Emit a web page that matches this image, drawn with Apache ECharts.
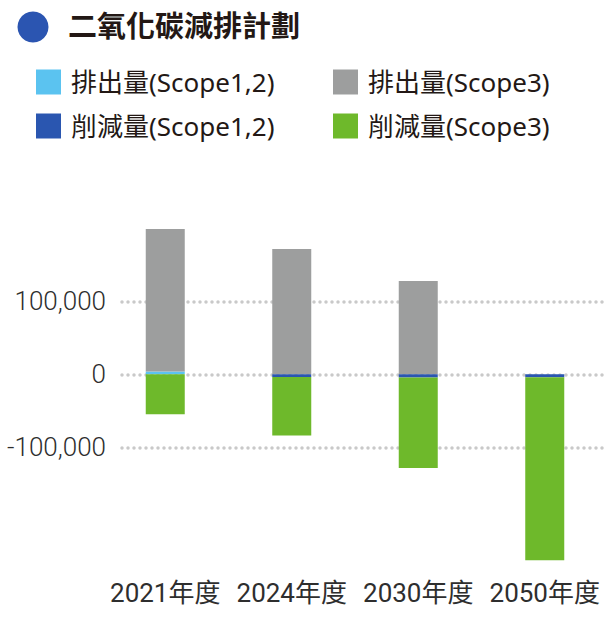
<!DOCTYPE html>
<html>
<head>
<meta charset="utf-8">
<script src="https://cdn.jsdelivr.net/npm/echarts@6.0.0/dist/echarts.min.js"></script>
<style>
  html, body { margin: 0; padding: 0; background: #fff; }
  #chart { width: 608px; height: 628px; }
</style>
</head>
<body>
<div id="chart"></div>
<script>
  // values (t-CO2e)
  const years = ["2021年度", "2024年度", "2030年度", "2050年度"];
  const emitScope12 = [4000, 0, 0, 0];
  const emitScope3 = [195000, 171600, 127800, 0];
  const cutScope12 = [0, -3700, -4500, -4000];
  const cutScope3 = [-54800, -80000, -123700, -250700];
  const gridTicks = [-100000, 0, 100000];

  const INK = "#231815";
  const CJK = "'Noto Sans', 'Noto Sans CJK TC', sans-serif";
  const NUM = "Roboto, 'Noto Sans CJK TC', sans-serif";

  const names = ["排出量(Scope1,2)", "排出量(Scope3)", "削減量(Scope1,2)", "削減量(Scope3)"];
  const colors = ["#5bc3f0", "#9d9e9e", "#2a56b0", "#6eb92b"];
  const values = [emitScope12, emitScope3, cutScope12, cutScope3];

  // one legend per entry so the two columns line up exactly
  const legendPos = [[36, 69], [333, 69], [36, 113], [333, 113]];
  const legends = names.map((n, i) => ({
    data: [n],
    left: legendPos[i][0], top: legendPos[i][1],
    padding: 0,
    icon: "rect", itemWidth: 25, itemHeight: 25,
    selectedMode: false,
    textStyle: { color: INK, fontSize: 26, fontFamily: CJK, padding: [0, 0, 0, 5] },
  }));

  const chart = echarts.init(document.getElementById("chart"), null, { renderer: "svg" });
  chart.setOption({
    animation: false,
    backgroundColor: "#fff",
    color: colors,
    title: {
      text: "二氧化碳減排計劃",
      left: 68, top: 11, padding: 0,
      textStyle: { color: INK, fontSize: 29, fontWeight: "bold", fontFamily: CJK },
    },
    graphic: [{
      type: "circle", shape: { cx: 33, cy: 27, r: 15.5 },
      style: { fill: "#2b55b1" },
    }],
    legend: legends,
    grid: [
      { left: 102, width: 507, top: 228.3, height: 335.8 },          // bars
      { left: 122, right: 3, top: 301.3, height: 146 },             // dotted guides
    ],
    xAxis: [
      {
        type: "category", data: years, gridIndex: 0,
        axisLine: { show: false }, axisTick: { show: false },
        axisLabel: { interval: 0, color: "#2e2e2e", fontSize: 26, fontFamily: NUM, margin: 16 },
      },
      { type: "value", gridIndex: 1, show: false },
    ],
    yAxis: [
      { type: "value", gridIndex: 0, min: -260000, max: 200000, show: false },
      {
        type: "value", gridIndex: 1,
        min: gridTicks[0], max: gridTicks[gridTicks.length - 1], interval: 100000,
        axisLine: { show: false }, axisTick: { show: false },
        axisLabel: {
          color: "#2e2e2e", fontSize: 26, fontWeight: 300, fontFamily: NUM, margin: 16,
          formatter: (v) => v.toLocaleString("en-US"),
        },
        splitLine: { lineStyle: { color: "#c9c9c9", width: 3.5, type: [0, 6], cap: "round" } },
      },
    ],
    series: names.map((n, i) => ({
      name: n, type: "bar", stack: "total",
      xAxisIndex: 0, yAxisIndex: 0,
      barWidth: 39,
      itemStyle: { color: colors[i] },
      data: values[i],
    })),
  });
</script>
</body>
</html>
